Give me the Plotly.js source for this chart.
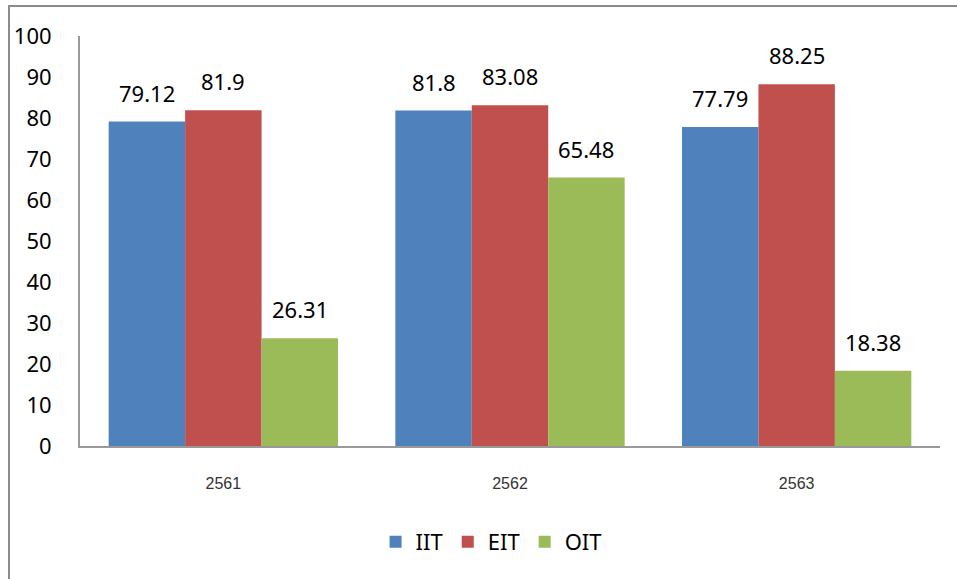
<!DOCTYPE html>
<html>
<head>
<meta charset="utf-8">
<script src="https://cdn.plot.ly/plotly-3.0.1.min.js"></script>
<style>
html,body{margin:0;padding:0;background:#fff;}
#chart{position:absolute;left:0;top:0;width:957px;height:579px;}
#frame{position:absolute;left:8px;top:5px;width:949px;height:574px;border-left:2px solid #8c8c8c;border-top:2px solid #8c8c8c;pointer-events:none;box-sizing:border-box;}
</style>
</head>
<body>
<div id="chart"></div>
<div id="frame"></div>
<script>
const categories = ["2561", "2562", "2563"];
const seriesNames = ["IIT", "EIT", "OIT"];
const iit = [79.12, 81.8, 77.79];
const eit = [81.9, 83.08, 88.25];
const oit = [26.31, 65.48, 18.38];
const yTicks = [0, 10, 20, 30, 40, 50, 60, 70, 80, 90, 100];

const colors = ["#4F81BD", "#C0504D", "#9BBB59"];
const allSeries = [iit, eit, oit];
const bargap = 0.2;

const traces = allSeries.map((vals, i) => ({
  type: "bar",
  name: seriesNames[i],
  x: categories,
  y: vals,
  marker: {color: colors[i], line: {width: 0}},
  hoverinfo: "skip"
}));

// data labels positioned over each bar
const annotations = [];
const barW = (1 - bargap) / allSeries.length;
allSeries.forEach((vals, i) => {
  vals.forEach((v, j) => {
    annotations.push({
      x: j + (i - (allSeries.length - 1) / 2) * barW,
      y: v,
      xref: "x", yref: "y",
      text: String(v),
      showarrow: false,
      yanchor: "bottom",
      yshift: 12,
      font: {family: "Noto Sans, Open Sans, sans-serif", size: 22, color: "#000"}
    });
  });
});

const layout = {
  width: 957, height: 579,
  margin: {l: 80, r: 17, t: 36, b: 133},
  paper_bgcolor: "#fff", plot_bgcolor: "#fff",
  barmode: "group",
  bargap: bargap,
  bargroupgap: 0,
  showlegend: true,
  legend: {
    orientation: "h",
    x: 0.478, xanchor: "center",
    y: -0.234, yanchor: "middle",
    font: {family: "Noto Sans, Open Sans, sans-serif", size: 22, color: "#000"},
    itemclick: false, itemdoubleclick: false,
    traceorder: "normal"
  },
  xaxis: {
    type: "category",
    showline: true, linecolor: "#999", linewidth: 2,
    showgrid: false, zeroline: false, ticks: "",
    ticklabelstandoff: 22,
    tickfont: {family: "Liberation Sans, Arial, sans-serif", size: 16, color: "#333"},
    fixedrange: true
  },
  yaxis: {
    range: [0, 100],
    tickvals: yTicks,
    ticktext: yTicks.map(String),
    showline: true, linecolor: "#999", linewidth: 2,
    showgrid: false, zeroline: false, ticks: "",
    ticklabelstandoff: 22,
    tickfont: {family: "Noto Sans, Open Sans, sans-serif", size: 22, color: "#000"},
    fixedrange: true
  },
  annotations: annotations
};

Plotly.newPlot("chart", traces, layout, {displayModeBar: false, staticPlot: true});
</script>
</body>
</html>
